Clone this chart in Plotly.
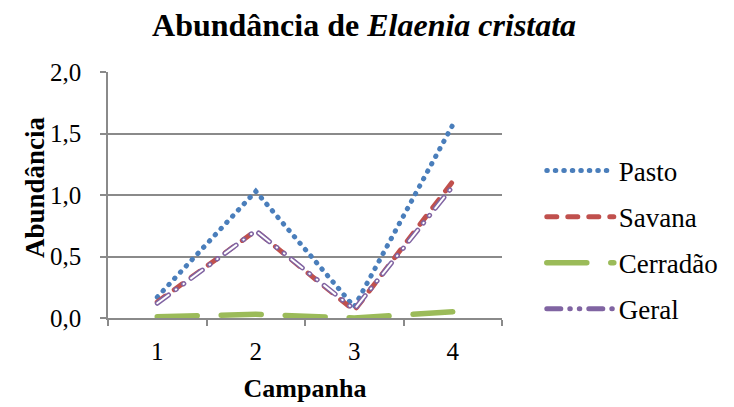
import plotly.graph_objects as go

campanhas = ["1", "2", "3", "4"]
pasto = [0.17, 1.03, 0.09, 1.57]
savana = [0.13, 0.71, 0.06, 1.11]
cerradao = [0.01, 0.03, 0.00, 0.05]
geral = [0.12, 0.71, 0.07, 1.07]

FONT = "Liberation Serif"
GRID = "#8a8a8a"
GERAL_DASH = "14px,9px,0.5px,9px,0.5px,9px"
fig = go.Figure()

fig.add_trace(go.Scatter(x=campanhas, y=pasto, mode="lines", name="Pasto",
                         line=dict(color="#4a7ebb", width=5, dash="0.5px,8px"), legendgroup="a"))
fig.add_trace(go.Scatter(x=campanhas, y=savana, mode="lines", name="Savana",
                         line=dict(color="#c0504d", width=5, dash="10px,11px"), legendgroup="b"))
fig.add_trace(go.Scatter(x=campanhas, y=cerradao, mode="lines", name="Cerradão",
                         line=dict(color="#9bbb59", width=5.5, dash="40px,24px"), legendgroup="c"))
fig.add_trace(go.Scatter(x=campanhas, y=geral, mode="lines", name="Geral",
                         line=dict(color="#8064a2", width=5, dash=GERAL_DASH), legendgroup="d"))
fig.add_trace(go.Scatter(x=campanhas, y=geral, mode="lines", name="Geral", showlegend=False,
                         line=dict(color="white", width=2, dash=GERAL_DASH), legendgroup="d",
                         hoverinfo="skip"))

fig.update_layout(
    width=734, height=407,
    margin=dict(l=108, r=232, t=72, b=89, autoexpand=False),
    paper_bgcolor="white", plot_bgcolor="white",
    separators=",.",
    font=dict(family=FONT, size=25, color="black"),
    title=dict(text="<b>Abundância de <i>Elaenia cristata</i></b>", x=0.496, xanchor="center",
               y=1 - 25 / 407, yanchor="middle", font=dict(family=FONT, size=32)),
    legend=dict(x=1.101, y=0.317, xanchor="left", yanchor="middle", tracegroupgap=8,
                font=dict(family=FONT, size=27), itemwidth=67, bgcolor="rgba(0,0,0,0)"),
    showlegend=True,
    annotations=[dict(text="<b>Abundância</b>", xref="paper", yref="paper",
                      x=(35 - 108) / 394, y=(318 - 187) / 246, xanchor="center", yanchor="middle",
                      textangle=-90, showarrow=False, font=dict(family=FONT, size=27))],
)
fig.update_xaxes(
    type="category", range=[-0.5, 3.5], tickson="boundaries", ticks="outside", ticklen=6,
    tickcolor=GRID, tickwidth=1.5, showline=True, linecolor=GRID, linewidth=1.5, showgrid=False,
    ticklabelstandoff=10, automargin=False,
    title=dict(text="<b>Campanha</b>", font=dict(family=FONT, size=26), standoff=15),
    tickfont=dict(family=FONT, size=25),
)
fig.update_yaxes(
    range=[0, 2], dtick=0.5, tickformat=".1f", ticks="outside", ticklen=6, tickcolor=GRID,
    tickwidth=1.5, showline=True, linecolor=GRID, linewidth=1.5,
    showgrid=True, gridcolor=GRID, gridwidth=1.5, zeroline=False,
    ticklabelstandoff=14, automargin=False,
    tickfont=dict(family=FONT, size=25),
)

post = """
document.body.style.margin='0';
document.querySelectorAll('.js-line').forEach(function(p){p.style.strokeLinecap='round';});
"""
fig.write_html("out.html", post_script=post, config={"displayModeBar": False})
